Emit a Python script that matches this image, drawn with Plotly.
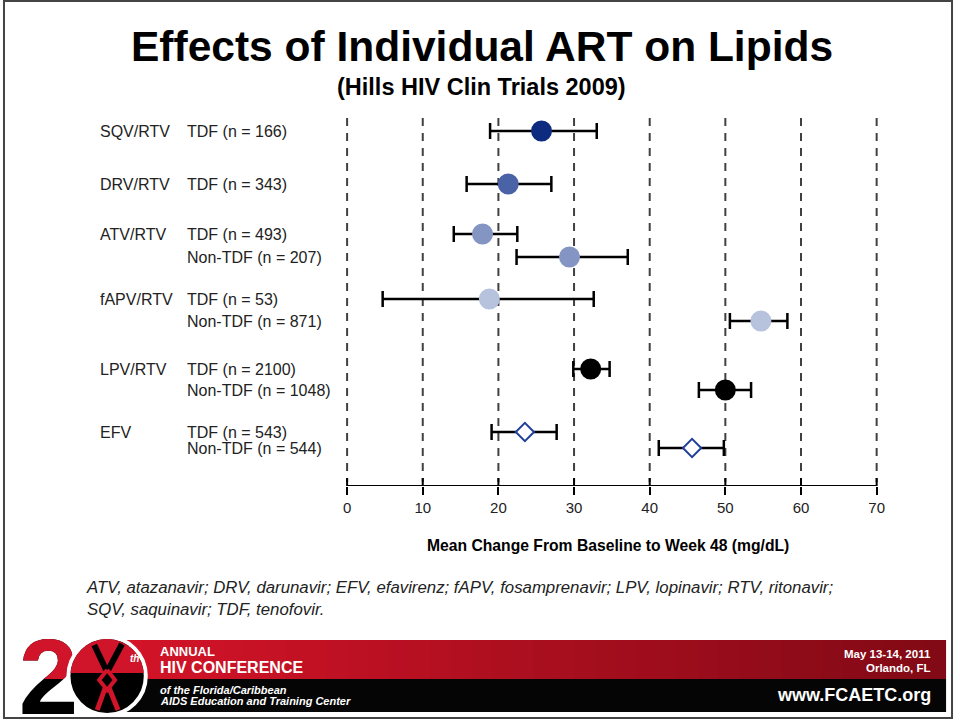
import math
import plotly.graph_objects as go

# ---------------- data ----------------
drugs = ["SQV/RTV", "DRV/RTV", "ATV/RTV", "ATV/RTV", "fAPV/RTV", "fAPV/RTV",
         "LPV/RTV", "LPV/RTV", "EFV", "EFV"]
arms = ["TDF (n = 166)", "TDF (n = 343)", "TDF (n = 493)", "Non-TDF (n = 207)",
        "TDF (n = 53)", "Non-TDF (n = 871)", "TDF (n = 2100)", "Non-TDF (n = 1048)",
        "TDF (n = 543)", "Non-TDF (n = 544)"]
mean_change = [25.7, 21.3, 17.9, 29.4, 18.8, 54.7, 32.2, 50.0, 23.5, 45.6]
ci_low = [18.9, 15.8, 14.1, 22.4, 4.7, 50.6, 29.9, 46.5, 19.1, 41.2]
ci_high = [33.0, 27.0, 22.5, 37.1, 32.6, 58.2, 34.7, 53.4, 27.7, 49.8]
tick_vals = [0, 10, 20, 30, 40, 50, 60, 70]
tick_text = ["0", "10", "20", "30", "40", "50", "60", "70"]

# ---------------- layout / styles ----------------
W, H = 960, 721
PLOT_L, PLOT_R, PLOT_T, AXIS_Y = 348, 882, 115, 486
PAD = 0.3  # small range padding so edge grid lines are not half-clipped
PX_PER_UNIT = (PLOT_R - PLOT_L) / 70

row_y_px = [131, 184, 234, 257, 299, 321, 369, 390, 432, 448]
marker_colors = ["#0d2c80", "#4a62a6", "#8495c4", "#8495c4", "#b7c2dd", "#b7c2dd",
                 "#000000", "#000000", "white", "white"]
marker_line = ["#0d2c80", "#4a62a6", "#8495c4", "#8495c4", "#b7c2dd", "#b7c2dd",
               "#000000", "#000000", "#1f3f99", "#1f3f99"]
symbols = ["circle"] * 8 + ["diamond", "diamond"]
sizes = [19] * 8 + [14, 14]

FONT = "Liberation Sans, Arial, sans-serif"


def fx(px):
    return px / W


def fy(py):
    return (H - py) / H


err_plus = [h - m for h, m in zip(ci_high, mean_change)]
err_minus = [m - l for m, l in zip(mean_change, ci_low)]

fig = go.Figure()
fig.add_trace(go.Scatter(
    x=mean_change, y=row_y_px, mode="markers",
    marker=dict(color=marker_colors, symbol=symbols, size=sizes, opacity=1,
                line=dict(color=marker_line, width=2)),
    error_x=dict(type="data", symmetric=False, array=err_plus, arrayminus=err_minus,
                 color="black", thickness=2.5, width=8),
    showlegend=False, hoverinfo="skip",
))

# logo "2": full black glyph, with red overlay clipped to the upper half
LOGO_X0, LOGO_X1, LOGO_TOP, LOGO_MID, LOGO_BOT = 5, 85, 630, 679, 718
fig.add_trace(go.Scatter(
    x=[47], y=[687], mode="text", text=["<b>2</b>"], textposition="middle center",
    textfont=dict(family=FONT, size=107, color="#000000"), cliponaxis=False,
    xaxis="x2", yaxis="y2", showlegend=False, hoverinfo="skip"))
fig.add_trace(go.Scatter(
    x=[47], y=[687], mode="text", text=["<b>2</b>"], textposition="middle center",
    textfont=dict(family=FONT, size=107, color="#d0142a"), cliponaxis=True,
    xaxis="x3", yaxis="y3", showlegend=False, hoverinfo="skip"))

shapes = []
for v in tick_vals:
    shapes.append(dict(type="line", xref="x", yref="y", x0=v, x1=v, y0=118, y1=482,
                       line=dict(color="#404040", width=2, dash="8px,7px"), layer="below"))
    shapes.append(dict(type="line", xref="x", yref="y", x0=v, x1=v, y0=AXIS_Y, y1=AXIS_Y - 8,
                       line=dict(color="black", width=2)))

annotations = []
prev = None
for d, a, y in zip(drugs, arms, row_y_px):
    if d != prev:
        annotations.append(dict(text=d, xref="paper", yref="y", x=fx(97), y=y,
                                xanchor="left", yanchor="middle", showarrow=False,
                                font=dict(family=FONT, size=16, color="#222")))
        prev = d
    annotations.append(dict(text=a, xref="paper", yref="y", x=fx(185), y=y,
                            xanchor="left", yanchor="middle", showarrow=False,
                            font=dict(family=FONT, size=16, color="#222")))

annotations.append(dict(text="<b>Effects of Individual ART on Lipids</b>", xref="paper", yref="paper",
                        x=fx(484), y=fy(47), xanchor="center", yanchor="middle", showarrow=False,
                        font=dict(family=FONT, size=42.5, color="black")))
annotations.append(dict(text="<b>(Hills HIV Clin Trials 2009)</b>", xref="paper", yref="paper",
                        x=fx(484), y=fy(87), xanchor="center", yanchor="middle", showarrow=False,
                        font=dict(family=FONT, size=23.5, color="black")))
annotations.append(dict(text="<b>Mean Change From Baseline to Week 48 (mg/dL)</b>", xref="paper",
                        yref="paper", x=fx(611), y=fy(545), xanchor="center", yanchor="middle",
                        showarrow=False, font=dict(family=FONT, size=15.7, color="black")))
annotations.append(dict(text="<i>ATV, atazanavir; DRV, darunavir; EFV, efavirenz; fAPV, fosamprenavir; "
                             "LPV, lopinavir; RTV, ritonavir;<br>SQV, saquinavir; TDF, tenofovir.</i>",
                        xref="paper", yref="paper", x=fx(83), y=fy(598), xanchor="left",
                        yanchor="middle", align="left", showarrow=False,
                        font=dict(family=FONT, size=16.8, color="#222")))

# ---------------- footer banner ----------------
n_strips = 40
x_start, x_end = 120, 952
B_TOP, B_MID, B_BOT = 640, 679, 712
for i in range(n_strips):
    t = i / (n_strips - 1)
    r = int(212 + (130 - 212) * t)
    g = int(20 + (10 - 20) * t)
    b = int(40 + (22 - 40) * t)
    xa = x_start + (x_end - x_start) * i / n_strips
    xb = x_start + (x_end - x_start) * (i + 1) / n_strips + 1
    shapes.append(dict(type="rect", xref="paper", yref="paper", x0=fx(xa), x1=fx(min(xb, x_end)),
                       y0=fy(B_MID), y1=fy(B_TOP), fillcolor=f"rgb({r},{g},{b})", line=dict(width=0)))
shapes.append(dict(type="rect", xref="paper", yref="paper", x0=fx(x_start), x1=fx(x_end),
                   y0=fy(B_BOT), y1=fy(B_MID), fillcolor="#050505", line=dict(width=0)))
# logo circle (red upper half, black lower half, white ring)
cx, cy, rad = 106, 676, 39
shapes.append(dict(type="circle", xref="paper", yref="paper", x0=fx(cx - rad), x1=fx(cx + rad),
                   y0=fy(cy + rad), y1=fy(cy - rad), fillcolor="black",
                   line=dict(color="white", width=4)))
half = math.asin((cy - B_MID) / (rad - 2)) if abs(cy - B_MID) < rad else 0
pts = []
for k in range(0, 61):
    ang = -half + (math.pi + 2 * half) * k / 60
    pts.append((fx(cx + (rad - 2) * math.cos(ang)), fy(cy - (rad - 2) * math.sin(ang))))
path = "M " + " L ".join(f"{p[0]:.5f},{p[1]:.5f}" for p in pts) + " Z"
shapes.append(dict(type="path", xref="paper", yref="paper", path=path,
                   fillcolor="#d0142a", line=dict(width=0)))
# scissors blades (black) and ribbon (red)
for (x0, y0, x1, y1) in [(93, 645, 105, 670), (121, 644, 107, 670)]:
    shapes.append(dict(type="line", xref="paper", yref="paper", x0=fx(x0), y0=fy(y0),
                       x1=fx(x1), y1=fy(y1), line=dict(color="black", width=6)))
rib = [(106, 670), (98, 680), (106, 690), (114, 680), (106, 670)]
shapes.append(dict(type="path", xref="paper", yref="paper",
                   path="M " + " L ".join(f"{fx(a):.5f},{fy(b):.5f}" for a, b in rib),
                   line=dict(color="#d0142a", width=4)))
for (x0, y0, x1, y1) in [(104, 688, 96, 710), (108, 688, 117, 710)]:
    shapes.append(dict(type="line", xref="paper", yref="paper", x0=fx(x0), y0=fy(y0),
                       x1=fx(x1), y1=fy(y1), line=dict(color="#d0142a", width=5)))
# slide border
shapes.append(dict(type="rect", xref="paper", yref="paper", x0=fx(2), x1=fx(958),
                   y0=fy(718), y1=fy(1), line=dict(color="#444", width=2)))

annotations.append(dict(text="<b><i>th</i></b>", xref="paper", yref="paper", x=fx(134), y=fy(658),
                        xanchor="center", yanchor="middle", showarrow=False,
                        font=dict(family=FONT, size=10, color="white")))
footer_texts = [
    ("<b>ANNUAL</b>", 157, 651, "left", 13),
    ("<b>HIV CONFERENCE</b>", 157, 667, "left", 16),
    ("<b><i>of the Florida/Caribbean</i></b>", 157, 690, "left", 11),
    ("<b><i>AIDS Education and Training Center</i></b>", 157, 701, "left", 11),
    ("<b>May 13-14, 2011</b>", 939, 654, "right", 11.5),
    ("<b>Orlando, FL</b>", 939, 668, "right", 11.5),
    ("<b>www.FCAETC.org</b>", 939, 695, "right", 18),
]
for txt, px, py, anc, sz in footer_texts:
    annotations.append(dict(text=txt, xref="paper", yref="paper", x=fx(px), y=fy(py),
                            xanchor=anc, yanchor="middle", showarrow=False,
                            font=dict(family=FONT, size=sz, color="white")))

hidden = dict(visible=False, fixedrange=True)
fig.update_layout(
    width=W, height=H, margin=dict(l=0, r=0, t=0, b=0),
    paper_bgcolor="white", plot_bgcolor="rgba(0,0,0,0)",
    xaxis=dict(domain=[fx(PLOT_L - PAD * PX_PER_UNIT), fx(PLOT_R + PAD * PX_PER_UNIT)],
               range=[-PAD, 70 + PAD], tickvals=tick_vals, ticktext=tick_text,
               showgrid=False, zeroline=False, showline=False,
               ticks="outside", ticklen=8, tickwidth=2, tickcolor="black",
               tickfont=dict(family=FONT, size=15, color="#222"), fixedrange=True),
    yaxis=dict(domain=[fy(AXIS_Y), fy(PLOT_T)], range=[AXIS_Y, PLOT_T], visible=False, fixedrange=True),
    xaxis2=dict(domain=[fx(LOGO_X0), fx(LOGO_X1)], range=[LOGO_X0, LOGO_X1], anchor="y2", **hidden),
    yaxis2=dict(domain=[fy(LOGO_BOT), fy(LOGO_TOP)], range=[LOGO_BOT, LOGO_TOP], anchor="x2", **hidden),
    xaxis3=dict(domain=[fx(LOGO_X0), fx(LOGO_X1)], range=[LOGO_X0, LOGO_X1], anchor="y3", **hidden),
    yaxis3=dict(domain=[fy(LOGO_MID), fy(LOGO_TOP)], range=[LOGO_MID, LOGO_TOP], anchor="x3", **hidden),
    shapes=shapes + [dict(type="line", xref="x", yref="y", x0=0, x1=70, y0=AXIS_Y, y1=AXIS_Y,
                          line=dict(color="black", width=2))],
    annotations=annotations,
)

fig.write_html("out.html", config={"displayModeBar": False},
               post_script="document.body.style.margin='0';document.body.style.overflow='hidden';")
